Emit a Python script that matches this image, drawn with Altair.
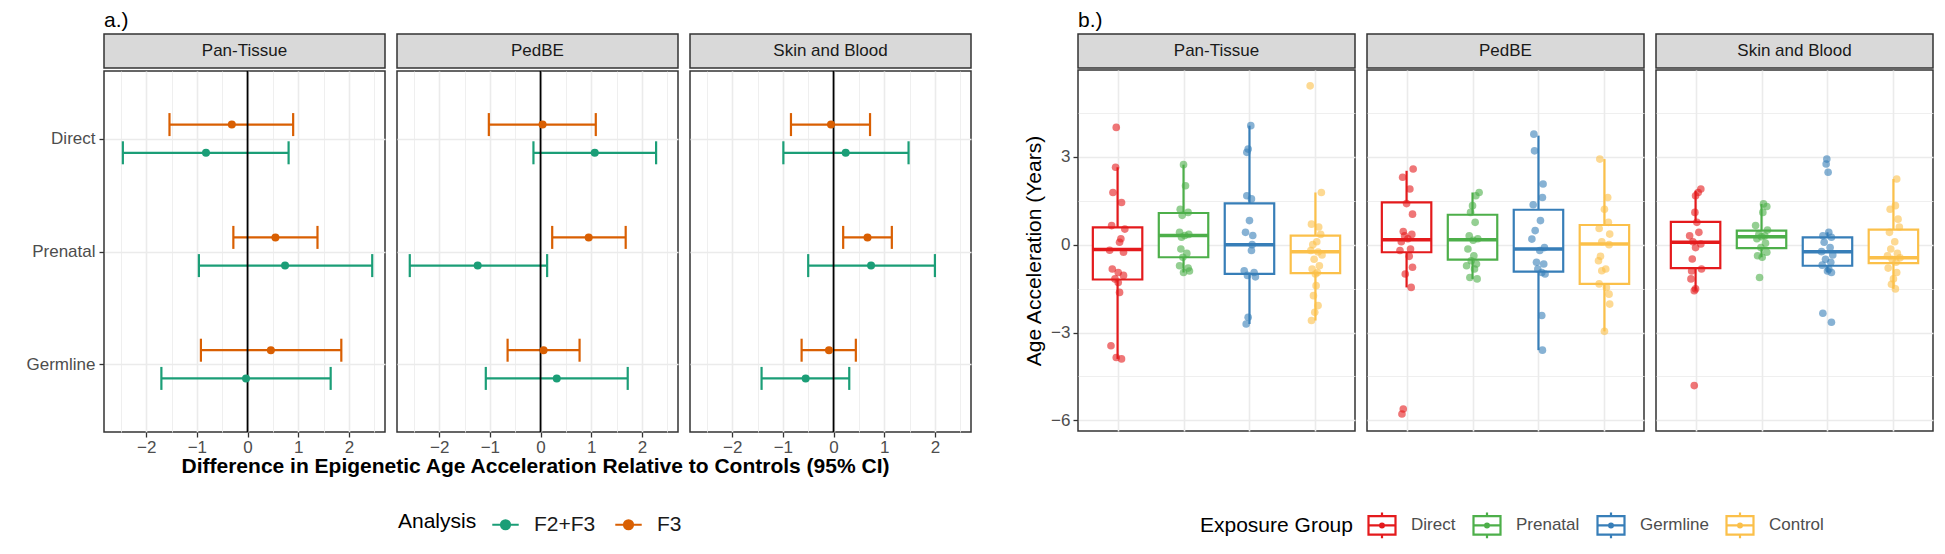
import json
import altair as alt
import pandas as pd

FONT = "Liberation Sans"
GRID = "#EBEBEB"
BORDER = "#333333"
TICKLAB = "#4D4D4D"

clocks = ["Pan-Tissue", "PedBE", "Skin and Blood"]

# ---------------- a.) forest plot data ----------------
forest_groups = ["Direct", "Prenatal", "Germline"]
analyses = ["F2+F3", "F3"]
analysis_colors = ["#1B9E77", "#D95F02"]

# rows: clock, columns: Direct, Prenatal, Germline
f3_est = [[-0.31, 0.55, 0.46], [0.04, 0.95, 0.06], [-0.05, 0.67, -0.09]]
f3_lo = [[-1.54, -0.28, -0.92], [-1.02, 0.23, -0.65], [-0.84, 0.19, -0.63]]
f3_hi = [[0.90, 1.38, 1.85], [1.09, 1.68, 0.77], [0.72, 1.15, 0.44]]
f23_est = [[-0.82, 0.74, -0.03], [1.07, -1.24, 0.32], [0.24, 0.74, -0.55]]
f23_lo = [[-2.46, -0.96, -1.70], [-0.14, -2.58, -1.08], [-0.99, -0.50, -1.42]]
f23_hi = [[0.81, 2.46, 1.64], [2.28, 0.13, 1.72], [1.48, 2.00, 0.31]]

forest_x_ticks = [-2.5, -2, -1.5, -1, -0.5, 0, 0.5, 1, 1.5, 2, 2.5]
forest_x_title = "Difference in Epigenetic Age Acceleration Relative to Controls (95% CI)"

# ---------------- b.) box plot data ----------------
exposure_groups = ["Direct", "Prenatal", "Germline", "Control"]
exposure_colors = ["#E41A1C", "#4DAF4A", "#377EB8", "#FBC04A"]

box_q1 = [[-1.19, -0.43, -1.00, -0.97], [-0.26, -0.51, -0.92, -1.34], [-0.80, -0.12, -0.72, -0.63]]
box_med = [[-0.17, 0.31, 0.00, -0.24], [0.17, 0.17, -0.15, 0.02], [0.08, 0.27, -0.24, -0.45]]
box_q3 = [[0.59, 1.08, 1.41, 0.31], [1.44, 1.02, 1.19, 0.67], [0.78, 0.48, 0.25, 0.51]]
box_lo = [[-3.90, -0.95, -2.71, -2.59], [-1.46, -1.17, -3.60, -2.96], [-1.57, -0.43, -0.95, -1.51]]
box_hi = [[2.64, 2.73, 4.06, 1.78], [2.52, 1.78, 3.72, 2.92], [1.84, 1.39, 0.42, 2.24]]

# individual samples [clock][group] and their horizontal jitter (category units)
pts_val = [
    [
        [4.0, 2.64, 1.78, 1.44, 0.65, 0.53, 0.2, 0.08, -0.19, -0.26, -0.83, -0.95, -1.05, -1.17, -1.29, -1.63, -3.45, -3.85, -3.9],
        [2.73, 2.01, 1.21, 1.1, 1.0, 0.42, 0.35, 0.31, 0.25, -0.15, -0.3, -0.43, -0.72, -0.8, -0.95, -0.9],
        [4.06, 3.26, 3.15, 1.67, 1.56, 0.82, 0.42, 0.31, 0.0, -0.2, -0.89, -0.95, -1.05, -1.1, -2.48, -2.71],
        [5.42, 1.78, 0.7, 0.6, 0.35, 0.1, 0.0, -0.2, -0.25, -0.35, -0.5, -0.72, -0.83, -0.95, -1.0, -1.4, -1.74, -2.08, -2.31, -2.59],
    ],
    [
        [2.58, 2.3, 1.9, 1.4, 1.04, 0.45, 0.35, 0.3, 0.2, 0.1, -0.15, -0.2, -0.4, -0.77, -1.0, -1.46, -5.61, -5.78],
        [1.78, 1.67, 1.33, 1.1, 0.76, 0.3, 0.2, 0.15, -0.15, -0.38, -0.55, -0.66, -0.72, -0.83, -1.12, -1.17],
        [3.77, 3.2, 2.07, 1.61, 1.36, 0.82, 0.48, 0.19, -0.1, -0.2, -0.6, -0.66, -0.83, -0.95, -1.0, -2.42, -3.6],
        [2.92, 1.61, 1.21, 0.76, 0.55, 0.36, 0.1, 0.0, -0.4, -0.55, -0.83, -0.89, -1.34, -1.46, -1.69, -2.03, -2.96],
    ],
    [
        [1.9, 1.78, 1.67, 1.1, 0.76, 0.42, 0.3, 0.1, 0.02, -0.1, -0.49, -0.83, -0.9, -1.17, -1.51, -1.57, -4.81],
        [1.39, 1.3, 1.1, 0.65, 0.5, 0.35, 0.3, 0.27, 0.2, 0.05, -0.1, -0.26, -0.38, -0.43, -1.12],
        [2.92, 2.75, 2.47, 0.42, 0.3, 0.25, 0.08, -0.1, -0.24, -0.35, -0.5, -0.6, -0.7, -0.83, -0.9, -0.95, -2.34, -2.65],
        [2.24, 1.33, 1.21, 0.87, 0.6, 0.42, 0.1, -0.15, -0.3, -0.38, -0.45, -0.5, -0.6, -0.8, -0.95, -1.17, -1.35, -1.51],
    ],
]
pts_jit = [
    [
        [-0.02, -0.03, -0.07, 0.06, -0.09, 0.11, 0.05, 0.03, -0.12, 0.09, -0.08, 0.01, 0.09, -0.04, 0.01, 0.03, -0.1, -0.02, 0.06],
        [0.0, 0.03, -0.05, 0.07, -0.02, -0.06, 0.08, 0.02, -0.03, -0.04, 0.05, -0.01, -0.06, 0.07, 0.0, 0.09],
        [0.02, -0.02, -0.04, -0.04, 0.03, 0.0, -0.06, 0.05, 0.04, 0.03, -0.08, 0.07, -0.03, 0.09, -0.02, -0.05],
        [-0.08, 0.09, -0.06, 0.05, 0.08, 0.02, -0.04, -0.07, 0.04, 0.1, -0.02, 0.06, -0.05, 0.03, 0.0, 0.01, -0.03, 0.04, -0.01, -0.06],
    ],
    [
        [0.1, -0.06, 0.05, 0.0, 0.09, -0.05, 0.08, -0.03, 0.02, -0.08, 0.06, -0.1, 0.04, 0.09, -0.02, 0.07, -0.05, -0.07],
        [0.1, 0.05, 0.0, -0.03, 0.04, -0.05, 0.08, 0.01, -0.07, 0.02, -0.02, 0.06, -0.09, 0.03, -0.04, 0.07],
        [-0.07, -0.06, 0.07, 0.06, -0.08, 0.03, -0.05, -0.1, 0.09, 0.02, -0.03, 0.08, -0.01, 0.05, 0.1, 0.05, 0.06],
        [-0.07, 0.05, 0.0, 0.06, -0.08, 0.08, -0.04, 0.07, -0.06, -0.09, 0.02, -0.04, -0.08, 0.03, 0.07, 0.08, 0.0],
    ],
    [
        [0.08, 0.04, 0.0, -0.01, 0.02, 0.05, -0.09, -0.04, 0.08, 0.0, -0.05, 0.09, -0.06, -0.07, 0.0, -0.02, -0.02],
        [0.03, 0.08, 0.02, -0.09, 0.09, -0.04, 0.05, 0.0, -0.07, 0.06, -0.01, 0.08, -0.06, 0.01, -0.03],
        [-0.01, -0.02, 0.01, 0.02, -0.07, 0.06, -0.05, 0.04, -0.09, 0.08, -0.03, 0.05, -0.08, 0.02, 0.0, 0.06, -0.07, 0.06],
        [0.05, 0.03, -0.05, 0.07, 0.09, -0.06, 0.02, -0.04, 0.06, -0.09, 0.1, -0.02, 0.04, -0.08, 0.05, 0.0, -0.03, 0.03],
    ],
]
box_y_ticks = [-6, -4.5, -3, -1.5, 0, 1.5, 3, 4.5]

# ---------------- tables ----------------
rows = []
for ci, clock in enumerate(clocks):
    for gi, g in enumerate(forest_groups):
        gpos = len(forest_groups) - gi
        rows.append(dict(clock=clock, group=g, analysis="F3", est=f3_est[ci][gi],
                         lo=f3_lo[ci][gi], hi=f3_hi[ci][gi], gpos=gpos))
        rows.append(dict(clock=clock, group=g, analysis="F2+F3", est=f23_est[ci][gi],
                         lo=f23_lo[ci][gi], hi=f23_hi[ci][gi], gpos=gpos))
forest_df = pd.DataFrame(rows)

brows, prows = [], []
for ci, clock in enumerate(clocks):
    for gi, g in enumerate(exposure_groups):
        brows.append(dict(clock=clock, group=g, pos=gi + 1, q1=box_q1[ci][gi], med=box_med[ci][gi],
                          q3=box_q3[ci][gi], lo=box_lo[ci][gi], hi=box_hi[ci][gi]))
        for v, j in zip(pts_val[ci][gi], pts_jit[ci][gi]):
            prows.append(dict(clock=clock, group=g, pos=gi + 1, val=v, jit=j,
                              colour=exposure_colors[gi]))
box_df = pd.DataFrame(brows)
pts_df = pd.DataFrame(prows)

# ---------------- styles ----------------
PW_A, PW_B, PH, SH = 281, 277, 361, 34
GAP = 10
PANEL_VIEW = alt.ViewBackground(fill="white", stroke=BORDER, strokeWidth=1.5)
STRIP_VIEW = alt.ViewBackground(fill="#D9D9D9", stroke=BORDER, strokeWidth=1.5)

FOREST_SYMBOL = "M-1,0H1M0.34,0A0.34,0.34,0,1,1,-0.34,0A0.34,0.34,0,1,1,0.34,0Z"
BOX_SYMBOL = ("M-1,-0.68H1V0.68H-1Z M-1,0H1 M0,-0.68V-0.95 M0,0.68V0.95 "
              "M0.14,0A0.14,0.14,0,1,1,-0.14,0A0.14,0.14,0,1,1,0.14,0Z")


def strip(clock, width):
    return alt.Chart(pd.DataFrame({"clock": [clock]})).mark_text(
        fontSize=17, color="#1A1A1A", font=FONT
    ).encode(text="clock:N").properties(width=width, height=SH, view=STRIP_VIEW)


forest_legend = alt.Legend(
    title="Analysis", orient="none", legendX=294, legendY=476, direction="horizontal",
    titleOrient="left", titleAnchor="middle", titleBaseline="middle",
    symbolType=FOREST_SYMBOL, symbolSize=700, symbolStrokeWidth=2.2, symbolOpacity=1,
    labelFontSize=21, titleFontSize=21, titleFontWeight="normal", titleColor="black",
    labelColor="#1A1A1A", labelOffset=14, columnPadding=14, titlePadding=14, labelFont=FONT, titleFont=FONT,
)
a_scale = alt.Scale(domain=analyses, range=analysis_colors)

major_test = "datum.value % 1 === 0"
y_label_expr = "%s[datum.value - 1]" % json.dumps(list(reversed(forest_groups)))


def forest_panel(ci):
    d = forest_df[forest_df.clock == clocks[ci]]
    first = ci == 0
    xs = alt.Scale(domain=[-2.832, 2.712], nice=False, zero=False)
    ys = alt.Scale(domain=[0.4, 3.6], nice=False, zero=False)
    xaxis = alt.Axis(
        values=forest_x_ticks, format="~g", labelExpr="%s ? datum.label : ''" % major_test, title=None,
        grid=True, gridColor=GRID,
        gridWidth={"condition": {"test": major_test, "value": 1.6}, "value": 0.8},
        tickOpacity={"condition": {"test": major_test, "value": 1}, "value": 0},
        tickColor=BORDER, tickWidth=1.3, tickSize=5, domain=False,
        labelColor=TICKLAB, labelFontSize=17, labelFont=FONT, labelPadding=2,
    )
    if first:
        yaxis = alt.Axis(values=[1, 2, 3], labelExpr=y_label_expr, title=None, grid=True,
                         gridColor=GRID, gridWidth=1.6, tickColor=BORDER, tickWidth=1.3,
                         tickSize=5, domain=False, labelColor=TICKLAB, labelFontSize=17,
                         labelFont=FONT, labelPadding=4)
    else:
        yaxis = alt.Axis(values=[1, 2, 3], labels=False, ticks=False, title=None, grid=True,
                         gridColor=GRID, gridWidth=1.6, domain=False)
    base = alt.Chart(d).transform_calculate(
        ypos="datum.gpos + (datum.analysis === 'F3' ? 0.125 : -0.125)")
    rules = base.mark_rule(strokeWidth=2.2).encode(
        x=alt.X("lo:Q", scale=xs, axis=xaxis), x2="hi:Q",
        y=alt.Y("ypos:Q", scale=ys, axis=yaxis),
        stroke=alt.Stroke("analysis:N", scale=a_scale, legend=forest_legend),
    )
    caps = base.transform_fold(["lo", "hi"], as_=["end", "xv"]).mark_tick(
        orient="vertical", size=23, thickness=2.2, opacity=1).encode(
        x=alt.X("xv:Q", scale=xs, axis=xaxis),
        y=alt.Y("ypos:Q", scale=ys, axis=yaxis),
        fill=alt.Fill("analysis:N", scale=a_scale, legend=forest_legend),
    )
    zero = alt.Chart(pd.DataFrame({"zero": [0]})).mark_rule(color="black", strokeWidth=1.8).encode(
        x=alt.X("zero:Q", scale=xs, axis=xaxis))
    pts = base.mark_circle(size=64, opacity=1).encode(
        x=alt.X("est:Q", scale=xs, axis=xaxis),
        y=alt.Y("ypos:Q", scale=ys, axis=yaxis),
        fill=alt.Fill("analysis:N", scale=a_scale, legend=forest_legend),
    )
    plot = alt.layer(rules, caps, zero, pts).properties(width=PW_A, height=PH, view=PANEL_VIEW)
    return alt.vconcat(strip(clocks[ci], PW_A), plot, spacing=0)


box_legend = alt.Legend(
    title="Exposure Group", orient="none", legendX=122, legendY=476, direction="horizontal",
    titleOrient="left", titleAnchor="middle", titleBaseline="middle",
    symbolType=BOX_SYMBOL, symbolSize=729, symbolStrokeWidth=2.2, symbolOpacity=1,
    symbolFillColor="white",
    labelFontSize=17, titleFontSize=21, titleFontWeight="normal", titleColor="black",
    labelColor=TICKLAB, labelOffset=14, columnPadding=13, titlePadding=14, labelFont=FONT, titleFont=FONT,
)
e_scale = alt.Scale(domain=exposure_groups, range=exposure_colors)
box_major = "datum.value % 3 === 0"


def box_panel(ci):
    first = ci == 0
    bdf = box_df[box_df.clock == clocks[ci]]
    pdf = pts_df[pts_df.clock == clocks[ci]]
    xs = alt.Scale(domain=[0.4, 4.6], nice=False, zero=False)
    ys = alt.Scale(domain=[-6.36, 5.96], nice=False, zero=False)
    xaxis = alt.Axis(values=[1, 2, 3, 4], labels=False, ticks=False, domain=False, title=None,
                     grid=True, gridColor=GRID, gridWidth=1.6)
    grid_w = {"condition": {"test": box_major, "value": 1.6}, "value": 0.8}
    if first:
        yaxis = alt.Axis(values=box_y_ticks, format="~g",
                         labelExpr="%s ? datum.label : ''" % box_major,
                         title="Age Acceleration (Years)", titleFontSize=21, titleFontWeight="normal",
                         titleColor="black", titleFont=FONT, titlePadding=6,
                         grid=True, gridColor=GRID, gridWidth=grid_w,
                         tickOpacity={"condition": {"test": box_major, "value": 1}, "value": 0},
                         tickColor=BORDER, tickWidth=1.3, tickSize=5, domain=False,
                         labelColor=TICKLAB, labelFontSize=17, labelFont=FONT, labelPadding=3)
    else:
        yaxis = alt.Axis(values=box_y_ticks, labels=False, ticks=False, title=None, grid=True,
                         gridColor=GRID, gridWidth=grid_w, domain=False)
    stroke = alt.Stroke("group:N", scale=e_scale, legend=box_legend)
    bbase = alt.Chart(bdf).transform_calculate(xl="datum.pos - 0.375", xr="datum.pos + 0.375")
    w_hi = bbase.mark_rule(strokeWidth=2.2).encode(
        x=alt.X("pos:Q", scale=xs, axis=xaxis), y=alt.Y("q3:Q", scale=ys, axis=yaxis), y2="hi:Q",
        stroke=stroke)
    w_lo = bbase.mark_rule(strokeWidth=2.2).encode(
        x=alt.X("pos:Q", scale=xs, axis=xaxis), y=alt.Y("lo:Q", scale=ys, axis=yaxis), y2="q1:Q",
        stroke=stroke)
    box = bbase.mark_rect(fill="white", strokeWidth=2.2).encode(
        x=alt.X("xl:Q", scale=xs, axis=xaxis), x2="xr:Q",
        y=alt.Y("q1:Q", scale=ys, axis=yaxis), y2="q3:Q", stroke=stroke)
    med = bbase.mark_rule(strokeWidth=3.5).encode(
        x=alt.X("xl:Q", scale=xs, axis=xaxis), x2="xr:Q",
        y=alt.Y("med:Q", scale=ys, axis=yaxis), stroke=stroke)
    pts = alt.Chart(pdf).transform_calculate(xp="datum.pos + datum.jit").mark_circle(
        size=58, opacity=0.6).encode(
        x=alt.X("xp:Q", scale=xs, axis=xaxis), y=alt.Y("val:Q", scale=ys, axis=yaxis),
        fill=alt.Fill("colour:N", scale=None))
    plot = alt.layer(w_hi, w_lo, box, med, pts).properties(width=PW_B, height=PH, view=PANEL_VIEW)
    return alt.vconcat(strip(clocks[ci], PW_B), plot, spacing=0)


left_inner = alt.hconcat(*[forest_panel(i) for i in range(3)], spacing=GAP).properties(
    title=alt.TitleParams(forest_x_title, orient="bottom", anchor="start", align="center",
                          dx=(3 * PW_A + 2 * GAP) / 2, frame="group", fontSize=21,
                          fontWeight="bold", color="black", font=FONT, offset=0))
left_fig = alt.vconcat(left_inner).properties(
    title=alt.TitleParams("a.)", anchor="start", frame="group", fontSize=21, fontWeight="normal",
                          color="black", font=FONT, offset=2))

right_fig = alt.hconcat(*[box_panel(i) for i in range(3)], spacing=GAP).properties(
    title=alt.TitleParams("b.)", anchor="start", frame="group", fontSize=21, fontWeight="normal",
                          color="black", font=FONT, offset=2))

chart = alt.hconcat(left_fig, right_fig, spacing=50).resolve_scale(
    fill="independent", stroke="independent"
).resolve_legend(
    fill="independent", stroke="independent"
).properties(
    padding={"left": 17, "top": 2, "right": 0, "bottom": 0}
).configure(font=FONT).configure_view(stroke="transparent")

chart.save("out.html", embed_options={"renderer": "svg", "actions": False})
